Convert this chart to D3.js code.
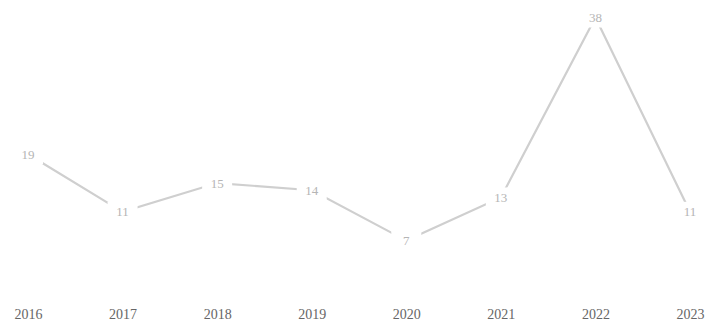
<!DOCTYPE html>
<html>
<head>
<meta charset="utf-8">
<script src="https://cdn.jsdelivr.net/npm/d3@7/dist/d3.min.js"></script>
<style>
  html, body { margin: 0; padding: 0; background: #fff; }
  svg { display: block; }
</style>
</head>
<body>
<svg id="chart" width="710" height="329"></svg>
<script>
// Yearly counts
const years = ["2016", "2017", "2018", "2019", "2020", "2021", "2022", "2023"];
const counts = [19, 11, 15, 14, 7, 13, 38, 11];

const width = 710, height = 329;
const svg = d3.select("#chart");

const x = d3.scalePoint().domain(years).range([28, 690]);
const y = d3.scaleLinear().domain([0, 38]).range([291, 17.5]);

const data = years.map((yr, i) => ({ year: yr, value: counts[i] }));

// Connecting line
const line = d3.line().x(d => x(d.year)).y(d => y(d.value));
svg.append("path")
  .datum(data)
  .attr("d", line)
  .attr("fill", "none")
  .attr("stroke", "#cfcfcf")
  .attr("stroke-width", 2.2);

// Value labels sit on the points, with a white knock-out behind them
const lbl = svg.append("g").selectAll("g").data(data).join("g")
  .attr("transform", d => `translate(${x(d.year)},${y(d.value)})`);
lbl.append("rect")
  .attr("x", -15).attr("y", -10).attr("width", 30).attr("height", 20)
  .attr("fill", "#fff");
lbl.append("text")
  .attr("text-anchor", "middle")
  .attr("dy", "0.35em")
  .attr("font-family", "Liberation Serif, serif")
  .attr("font-size", 13)
  .attr("fill", "#b5b5b5")
  .text(d => d.value);

// Category axis labels along the bottom
const xAxis = d3.axisBottom(x).tickSize(0).tickPadding(0);
const ax = svg.append("g").attr("transform", "translate(0,309)").call(xAxis);
ax.select(".domain").remove();
ax.selectAll("text")
  .attr("dy", "0.71em")
  .attr("font-family", "Liberation Serif, serif")
  .attr("font-size", 14)
  .attr("fill", "#666");
</script>
</body>
</html>
